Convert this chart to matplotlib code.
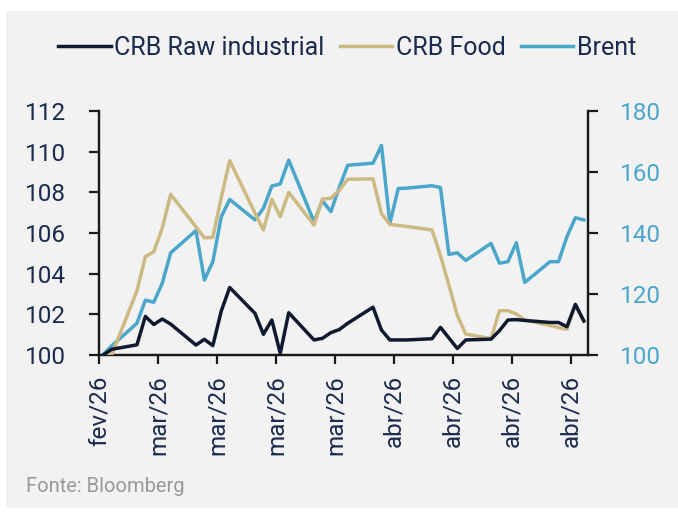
import pandas as pd
import matplotlib
matplotlib.use('Agg')
import matplotlib.pyplot as plt
import matplotlib.dates as mdates
from matplotlib.patches import Rectangle

# Dados (dias úteis)
datas = ['2026-02-26', '2026-02-27',
         '2026-03-02', '2026-03-03', '2026-03-04', '2026-03-05', '2026-03-06',
         '2026-03-09', '2026-03-10', '2026-03-11', '2026-03-12', '2026-03-13',
         '2026-03-16', '2026-03-17', '2026-03-18', '2026-03-19', '2026-03-20',
         '2026-03-23', '2026-03-24', '2026-03-25', '2026-03-26', '2026-03-27',
         '2026-03-30', '2026-03-31', '2026-04-01', '2026-04-02', '2026-04-03',
         '2026-04-06', '2026-04-07', '2026-04-08', '2026-04-09', '2026-04-10',
         '2026-04-13', '2026-04-14', '2026-04-15', '2026-04-16', '2026-04-17',
         '2026-04-20', '2026-04-21', '2026-04-22', '2026-04-23', '2026-04-24']

crb_raw = [100.0, 100.28,
           100.5, 101.9, 101.5, 101.77, 101.52,
           100.49, 100.77, 100.46, 102.16, 103.32,
           102.05, 101.02, 101.72, 100.08, 102.08,
           100.74, 100.82, 101.1, 101.25, 101.56,
           102.35, 101.23, 100.74, 100.74, 100.74,
           100.8, 101.36, 100.84, 100.32, 100.74,
           100.78, 101.2, 101.72, 101.74, 101.7,
           101.6, 101.6, 101.39, 102.49, 101.68]

crb_food = [100.0, 100.0,
            103.15, 104.84, 105.08, 106.23, 107.9,
            106.3, 105.76, 105.79, 107.74, 109.56,
            106.98, 106.15, 107.66, 106.8, 108.0,
            106.39, 107.67, 107.71, 108.1, 108.64,
            108.66, 106.95, 106.42, 106.37, 106.32,
            106.15, 104.89, 103.44, 101.95, 101.03,
            100.8, 102.18, 102.18, 102.02, 101.72,
            101.45, 101.35, 101.26, 102.46, 101.64]

brent = [100.2, 103.0,
         110.4, 118.0, 117.3, 123.5, 133.5,
         140.8, 124.6, 130.6, 145.3, 151.0,
         144.3, 148.1, 155.4, 156.1, 163.9,
         143.7, 150.6, 147.0, 155.0, 162.2,
         162.9, 168.7, 143.2, 154.6, 154.7,
         155.5, 154.9, 133.0, 133.5, 131.0,
         136.6, 130.1, 130.6, 136.8, 123.8,
         130.6, 130.6, 138.8, 145.0, 144.3]

meses = {1: 'jan', 2: 'fev', 3: 'mar', 4: 'abr', 5: 'mai', 6: 'jun',
         7: 'jul', 8: 'ago', 9: 'set', 10: 'out', 11: 'nov', 12: 'dez'}

# Cores
cor_raw = '#0f1a30'
cor_food = '#cdb982'
cor_brent = '#4aa6cb'
cor_texto = '#1b2b4d'
cor_fundo = '#f2f2f2'

plt.rcParams['font.family'] = ['Roboto', 'DejaVu Sans']
fs = 17.5

x = mdates.date2num(pd.to_datetime(datas))

fig = plt.figure(figsize=(6.78, 5.12), dpi=100, facecolor='white')
fig.patches.append(Rectangle((6 / 678, 4 / 512), 1 - 6 / 678, 1 - 15 / 512,
                             transform=fig.transFigure, facecolor=cor_fundo,
                             edgecolor='none', zorder=-10))

ax = fig.add_axes([99 / 678, 1 - 355 / 512, (588 - 99) / 678, (355 - 111) / 512])
ax.set_facecolor('none')
ax2 = ax.twinx()

l1, = ax.plot(x, crb_raw, color=cor_raw, lw=2.5, label='CRB Raw industrial', zorder=4)
l2, = ax.plot(x, crb_food, color=cor_food, lw=2.5, label='CRB Food', zorder=3)
l3, = ax2.plot(x, brent, color=cor_brent, lw=2.5, label='Brent', zorder=3)
ax.set_zorder(ax2.get_zorder() + 1)
ax.patch.set_visible(False)

ax.set_ylim(100, 112)
ax.set_yticks(range(100, 113, 2))
ax2.set_ylim(100, 180)
ax2.set_yticks(range(100, 181, 20))

# eixo de datas: marcas semanais entre os dias
ax.set_xlim(x[0] - 0.5, x[-1] + 0.5)
ticks = [x[0] - 0.5 + 7 * k for k in range(9)]
ax.set_xticks(ticks)
rotulos = []
for t in ticks:
    d = mdates.num2date(t + 0.5)
    rotulos.append(f'{meses[d.month]}/{d.strftime("%y")}')
ax.set_xticklabels(rotulos, rotation=90)

for a in (ax, ax2):
    a.spines['top'].set_visible(False)
    for s in ('left', 'right', 'bottom'):
        a.spines[s].set_linewidth(1.6)
        a.spines[s].set_color('#1a1a1a')

ax.tick_params(axis='y', length=7, width=1.6, color='#1a1a1a', pad=17,
               labelsize=fs, labelcolor=cor_texto)
ax.tick_params(axis='x', length=6.5, width=1.6, color='#1a1a1a', pad=8,
               labelsize=fs, labelcolor=cor_texto)
ax2.tick_params(axis='y', length=7, width=1.6, color='#1a1a1a', pad=16,
                labelsize=fs, labelcolor=cor_brent)

fig.legend(handles=[l1, l2, l3], loc='center', bbox_to_anchor=(0.512, 0.906),
           ncol=3, frameon=False, fontsize=18, handlelength=2.1,
           handletextpad=0.15, columnspacing=0.6, labelcolor=cor_texto)

fig.text(26 / 678, 1 - 487 / 512, 'Fonte: Bloomberg', fontsize=14.5,
         color='#999999', va='center', ha='left')

fig.savefig('out.png', dpi=100, facecolor='white')
